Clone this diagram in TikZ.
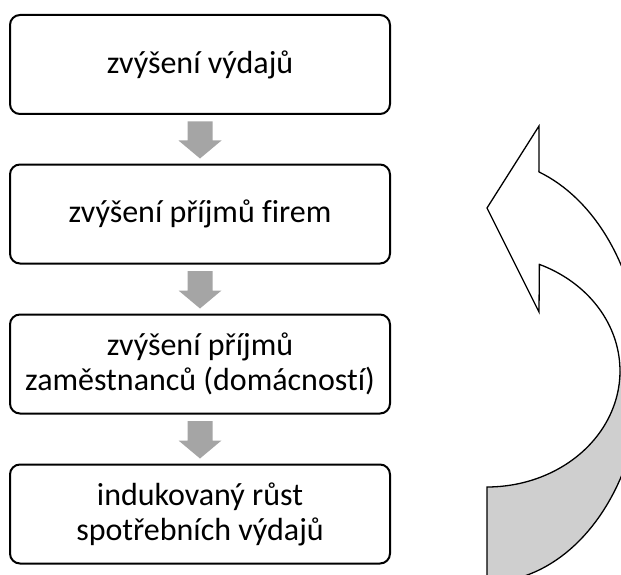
\documentclass[tikz,border=0pt]{standalone}
\usepackage{fontspec}
\setmainfont{Carlito}[Ligatures={NoCommon}]
\usetikzlibrary{calc}

\definecolor{flowgray}{HTML}{A5A5A5}
\definecolor{backgray}{HTML}{CFCFCF}

\tikzset{
  stepbox/.style={draw=black, line width=2pt, rounded corners=10pt,
    minimum width=380pt, minimum height=99pt, inner sep=0pt, outer sep=0pt,
    align=center, font=\fontsize{32}{35}\selectfont},
  loopline/.style={draw=black, line width=1.3pt, line join=miter},
}

% gray block arrow from the bottom of one box to the top of the next
\newcommand{\flowarrow}[2]{%
  \fill[flowgray] ($(#1.south)+(-12.5,7.5)$) -- ($(#1.south)+(12.5,7.5)$)
    -- ($(#2.north)+(12.5,-24)$) -- ($(#2.north)+(21.5,-24)$)
    -- ($(#2.north)+(0,-6)$)
    -- ($(#2.north)+(-21.5,-24)$) -- ($(#2.north)+(-12.5,-24)$) -- cycle;}

\begin{document}
\begin{tikzpicture}[x=1pt, y=-1pt]
  \useasboundingbox (0,0) rectangle (621,575);
  \clip (0,0) rectangle (621,575);

  % chain of boxes
  \node[stepbox] (b1) at (200,64.5) {zvýšení výdajů};
  \node[stepbox] (b2) at (200,214) {zvýšení příjmů firem};
  \node[stepbox] (b3) at (200,364) {zvýšení příjmů\\zaměstnanců (domácností)};
  \node[stepbox] (b4) at (200,514) {indukovaný růst\\spotřebních výdajů};

  \flowarrow{b1}{b2}
  \flowarrow{b2}{b3}
  \flowarrow{b3}{b4}

  % curved return arrow: white front face
  \fill[white] (487,208) -- (539,126) -- (539,172)
    -- plot[domain=70.4:-90, samples=80] ({487+155*cos(\x)},{371-211.3*sin(\x)})
    -- (487,487)
    -- plot[domain=-90:66.8, samples=80] ({487+133*cos(\x)},{371-116*sin(\x)})
    -- (539,312) -- cycle;
  % shaded back face of the lower part
  \fill[backgray]
    plot[domain=0:-90, samples=60] ({487+133*cos(\x)},{371-116*sin(\x)})
    -- plot[domain=-90:0, samples=60] ({487+155*cos(\x)},{371-211.3*sin(\x)})
    -- cycle;
  % outline
  \draw[loopline] (487,208) -- (539,126) -- (539,172)
    -- plot[domain=70.4:-90, samples=80] ({487+155*cos(\x)},{371-211.3*sin(\x)})
    -- (487,487)
    -- plot[domain=-90:66.8, samples=80] ({487+133*cos(\x)},{371-116*sin(\x)})
    -- (539,312) -- cycle;
\end{tikzpicture}
\end{document}
